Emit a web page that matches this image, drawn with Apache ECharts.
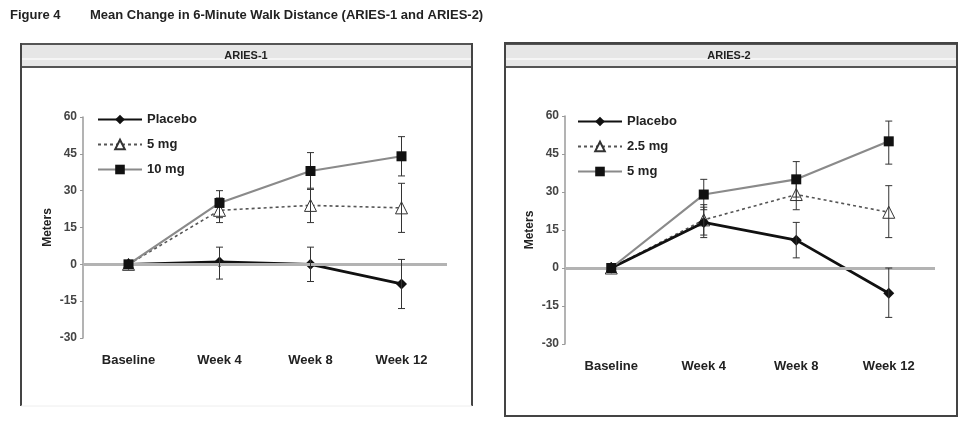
<!DOCTYPE html>
<html>
<head>
<meta charset="utf-8">
<script src="https://cdn.jsdelivr.net/npm/echarts@6/dist/echarts.min.js"></script>
<style>
html,body{margin:0;padding:0;background:#fff;}
#c{width:971px;height:430px;}
</style>
</head>
<body>
<div id="c"></div>
<script>
// ---- data ----
const categories = ['Baseline', 'Week 4', 'Week 8', 'Week 12'];
const yTicks = [-30, -15, 0, 15, 30, 45, 60];

// ARIES-1
const a1PlaceboMean = [0, 1, 0, -8];
const a1PlaceboLow  = [null, -6, -7, -18];
const a1PlaceboHigh = [null, 7, 7, 2];
const a1Dose5Mean   = [0, 22, 24, 23];
const a1Dose5Low    = [null, 17, 17, 13];
const a1Dose5High   = [null, 27, 31, 33];
const a1Dose10Mean  = [0, 25, 38, 44];
const a1Dose10Low   = [null, 19, 30.5, 36];
const a1Dose10High  = [null, 30, 45.5, 52];

// ARIES-2
const a2PlaceboMean = [0, 18, 11, -10];
const a2PlaceboLow  = [null, 12, 4, -19.5];
const a2PlaceboHigh = [null, 24, 18, 0];
const a2Dose25Mean  = [0, 19, 29, 22];
const a2Dose25Low   = [null, 13, 23, 12];
const a2Dose25High  = [null, 25, 36, 32.5];
const a2Dose5Mean   = [0, 29, 35, 50];
const a2Dose5Low    = [null, 23, 28, 41];
const a2Dose5High   = [null, 35, 42, 58];

const legend1Names = ['Placebo', '5 mg', '10 mg'];
const legend2Names = ['Placebo', '2.5 mg', '5 mg'];

// ---- build ----
const FONT = '"Liberation Sans", Arial, sans-serif';
const chart = echarts.init(document.getElementById('c'), null, {renderer: 'canvas'});

function errData(lo, hi) {
  const out = [];
  for (let i = 0; i < categories.length; i++) {
    if (lo[i] !== null && hi[i] !== null) out.push([i, lo[i], hi[i]]);
  }
  return out;
}
function errSeries(lo, hi, gi) {
  return {
    type: 'custom', xAxisIndex: gi, yAxisIndex: gi, z: 5, silent: true,
    data: errData(lo, hi),
    encode: {x: 0, y: [1, 2]},
    renderItem: function (params, api) {
      const x = api.value(0);
      const a = api.coord([x, api.value(1)]);
      const b = api.coord([x, api.value(2)]);
      const st = {stroke: '#333', lineWidth: 1};
      return {type: 'group', children: [
        {type: 'line', shape: {x1: a[0], y1: a[1], x2: b[0], y2: b[1]}, style: st},
        {type: 'line', shape: {x1: a[0] - 3.5, y1: a[1], x2: a[0] + 3.5, y2: a[1]}, style: st},
        {type: 'line', shape: {x1: b[0] - 3.5, y1: b[1], x2: b[0] + 3.5, y2: b[1]}, style: st}
      ]};
    }
  };
}
const placeboStyle = {
  type: 'line', symbol: 'diamond', symbolSize: 11, z: 4,
  lineStyle: {color: '#111', width: 2.8}, itemStyle: {color: '#111'}
};
const dottedStyle = {
  type: 'line', symbol: 'triangle', symbolSize: 12, z: 3,
  lineStyle: {color: '#555', width: 1.6, type: [3, 3]},
  itemStyle: {color: '#fff', borderColor: '#333', borderWidth: 1}
};
const greyStyle = {
  type: 'line', symbol: 'rect', symbolSize: 10, z: 6,
  lineStyle: {color: '#8a8a8a', width: 2.2}, itemStyle: {color: '#111'}
};
const zeroLine = {
  silent: true, symbol: 'none', label: {show: false},
  lineStyle: {color: '#b3b3b3', width: 3, type: 'solid'},
  data: [{yAxis: 0}]
};

function xAxisOf(gi) {
  return {
    type: 'category', gridIndex: gi, data: categories, boundaryGap: true,
    axisLine: {show: false, onZero: false}, axisTick: {show: false},
    axisLabel: {margin: 16, fontFamily: FONT, fontSize: 13, fontWeight: 'bold', color: '#222'}
  };
}
function yAxisOf(gi) {
  return {
    type: 'value', gridIndex: gi, min: yTicks[0], max: yTicks[yTicks.length - 1], interval: 15,
    name: 'Meters', nameLocation: 'middle', nameGap: 29, nameRotate: 90,
    nameTextStyle: {fontFamily: FONT, fontSize: 12, fontWeight: 'bold', color: '#222'},
    axisLine: {show: true, onZero: false, lineStyle: {color: '#9a9a9a', width: 1.5}},
    axisTick: {show: true, length: 3, lineStyle: {color: '#9a9a9a'}},
    splitLine: {show: false},
    axisLabel: {margin: 6, fontFamily: FONT, fontSize: 12, fontWeight: 'bold', color: '#444'}
  };
}
const legendText = {fontFamily: FONT, fontSize: 13, fontWeight: 'bold', color: '#222'};

const option = {
  animation: false,
  backgroundColor: '#fff',
  grid: [
    {left: 83, right: 971 - 447, top: 117, bottom: 430 - 338},
    {left: 565, right: 971 - 935, top: 116, bottom: 430 - 344}
  ],
  xAxis: [xAxisOf(0), xAxisOf(1)],
  yAxis: [yAxisOf(0), yAxisOf(1)],
  legend: [
    {orient: 'vertical', left: 92, top: 108, itemWidth: 44, itemHeight: 12, itemGap: 12,
     textStyle: legendText, data: legend1Names, formatter: n => n.trim(), selectedMode: false},
    {orient: 'vertical', left: 572, top: 110, itemWidth: 44, itemHeight: 12, itemGap: 12,
     textStyle: legendText, data: legend2Names.map(n => n + '\u00a0'), formatter: n => n.trim(), selectedMode: false}
  ],
  series: [
    Object.assign({name: legend1Names[0], xAxisIndex: 0, yAxisIndex: 0, data: a1PlaceboMean, markLine: zeroLine}, placeboStyle),
    Object.assign({name: legend1Names[1], xAxisIndex: 0, yAxisIndex: 0, data: a1Dose5Mean}, dottedStyle),
    Object.assign({name: legend1Names[2], xAxisIndex: 0, yAxisIndex: 0, data: a1Dose10Mean}, greyStyle),
    errSeries(a1PlaceboLow, a1PlaceboHigh, 0),
    errSeries(a1Dose5Low, a1Dose5High, 0),
    errSeries(a1Dose10Low, a1Dose10High, 0),
    Object.assign({name: legend2Names[0] + '\u00a0', xAxisIndex: 1, yAxisIndex: 1, data: a2PlaceboMean, markLine: zeroLine}, placeboStyle),
    Object.assign({name: legend2Names[1] + '\u00a0', xAxisIndex: 1, yAxisIndex: 1, data: a2Dose25Mean}, dottedStyle),
    Object.assign({name: legend2Names[2] + '\u00a0', xAxisIndex: 1, yAxisIndex: 1, data: a2Dose5Mean}, greyStyle),
    errSeries(a2PlaceboLow, a2PlaceboHigh, 1),
    errSeries(a2Dose25Low, a2Dose25High, 1),
    errSeries(a2Dose5Low, a2Dose5High, 1)
  ],
  graphic: [
    {type: 'text', left: 10, top: 9, style: {text: 'Figure 4', font: 'bold 13px ' + FONT, fill: '#222'}},
    {type: 'text', left: 90, top: 9, style: {text: 'Mean Change in 6-Minute Walk Distance (ARIES-1 and ARIES-2)', font: 'bold 13px ' + FONT, fill: '#222'}},
    // left panel frame
    {type: 'rect', shape: {x: 21, y: 44, width: 451, height: 23}, style: {fill: '#e6e6e6', stroke: null}, z: -1},
    {type: 'line', shape: {x1: 21, y1: 59, x2: 472, y2: 59}, style: {stroke: '#fafafa', lineWidth: 1.5}},
    {type: 'line', shape: {x1: 21, y1: 44, x2: 472, y2: 44}, style: {stroke: '#555', lineWidth: 2}},
    {type: 'line', shape: {x1: 21, y1: 67, x2: 472, y2: 67}, style: {stroke: '#555', lineWidth: 2}},
    {type: 'line', shape: {x1: 21, y1: 43, x2: 21, y2: 406}, style: {stroke: '#444', lineWidth: 2}},
    {type: 'line', shape: {x1: 472, y1: 43, x2: 472, y2: 406}, style: {stroke: '#444', lineWidth: 2}},
    {type: 'line', shape: {x1: 21, y1: 406, x2: 472, y2: 406}, style: {stroke: '#eeeeee', lineWidth: 1}},
    {type: 'text', x: 246, y: 56, style: {text: 'ARIES-1', font: 'bold 11px ' + FONT, fill: '#222', align: 'center', verticalAlign: 'middle'}},
    // right panel frame
    {type: 'rect', shape: {x: 505, y: 44, width: 452, height: 23}, style: {fill: '#e6e6e6', stroke: null}, z: -1},
    {type: 'line', shape: {x1: 505, y1: 59, x2: 957, y2: 59}, style: {stroke: '#fafafa', lineWidth: 1.5}},
    {type: 'line', shape: {x1: 505, y1: 44, x2: 957, y2: 44}, style: {stroke: '#555', lineWidth: 2}},
    {type: 'line', shape: {x1: 505, y1: 67, x2: 957, y2: 67}, style: {stroke: '#555', lineWidth: 2}},
    {type: 'rect', shape: {x: 505, y: 43, width: 452, height: 373}, style: {fill: null, stroke: '#444', lineWidth: 2}},
    {type: 'text', x: 729, y: 56, style: {text: 'ARIES-2', font: 'bold 11px ' + FONT, fill: '#222', align: 'center', verticalAlign: 'middle'}}
  ]
};
chart.setOption(option);
</script>
</body>
</html>
